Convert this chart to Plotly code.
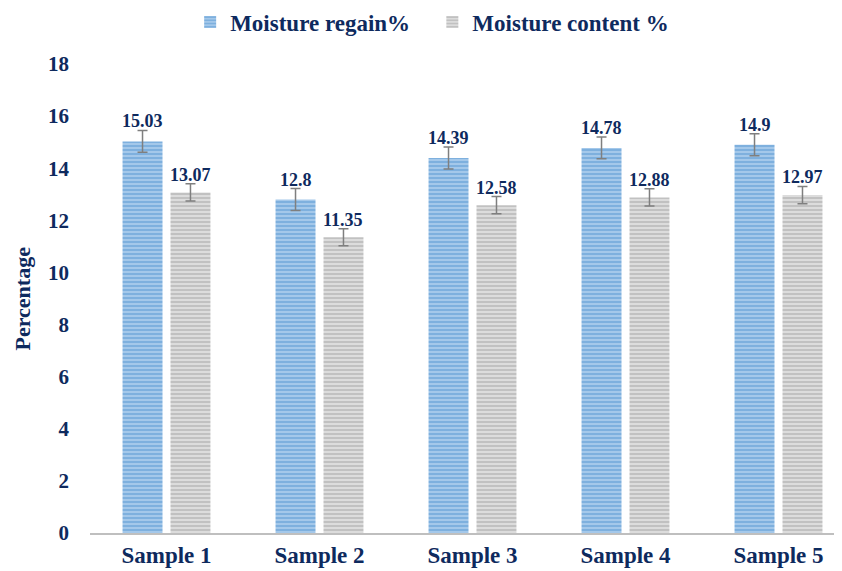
"""Moisture regain / content bar chart (Plotly)."""

import plotly.graph_objs as go

samples = ["Sample 1", "Sample 2", "Sample 3", "Sample 4", "Sample 5"]
regain = [15.03, 12.8, 14.39, 14.78, 14.9]
content = [13.07, 11.35, 12.58, 12.88, 12.97]
regain_err = [0.42, 0.42, 0.42, 0.42, 0.42]
content_err = [0.33, 0.33, 0.33, 0.33, 0.33]
y_ticks = [0, 2, 4, 6, 8, 10, 12, 14, 16, 18]

NAVY = "#0E2A5E"
FONT = "Liberation Serif"

# the page body has an 8px margin, so the figure is a bit smaller than the window
W, H = 834, 563
L_MARGIN, R_MARGIN = 82, 0
X_RANGE = [-0.5, 4.415]
BARGAP, GROUPGAP = 0.373, 0.167
cat_px = (W - L_MARGIN - R_MARGIN) / (X_RANGE[1] - X_RANGE[0])
slot_shift = cat_px * (1 - BARGAP) / 4

fig = go.Figure()
fig.add_trace(go.Bar(
    x=samples,
    y=regain,
    name="<b>Moisture regain%</b>\u00a0\u00a0\u00a0",
    marker=dict(
        color="#9DC3E6",
        line=dict(width=0),
        pattern=dict(shape="-", fgcolor="#4F93D2", bgcolor="#A4C8EA", size=4, solidity=0.45),
    ),
    error_y=dict(type="data", array=regain_err, color="#7F7F7F", thickness=1.5, width=5),
))
fig.add_trace(go.Bar(
    x=samples,
    y=content,
    name="<b>Moisture content %</b>",
    marker=dict(
        color="#D9D9D9",
        line=dict(width=0),
        pattern=dict(shape="-", fgcolor="#A0A0A0", bgcolor="#DCDCDC", size=4, solidity=0.45),
    ),
    error_y=dict(type="data", array=content_err, color="#7F7F7F", thickness=1.5, width=5),
))

# value labels above the error bars
for vals, errs, sign in [(regain, regain_err, -1), (content, content_err, 1)]:
    for s, v, e in zip(samples, vals, errs):
        fig.add_annotation(
            x=s, y=v + e,
            text=f"<b>{v:g}</b>",
            showarrow=False,
            xshift=sign * slot_shift,
            yanchor="bottom",
            yshift=-3,
            font=dict(family=FONT, size=18, color=NAVY),
        )

# y axis title, placed further left than plotly's own title would go
fig.add_annotation(
    xref="paper", yref="paper",
    x=0, y=0.5,
    xanchor="center", yanchor="middle",
    xshift=-68,
    text="<b>Percentage</b>",
    textangle=-90,
    showarrow=False,
    font=dict(family=FONT, size=22, color=NAVY),
)

fig.update_layout(
    width=W,
    height=H,
    barmode="group",
    bargap=BARGAP,
    bargroupgap=GROUPGAP,
    plot_bgcolor="white",
    paper_bgcolor="white",
    font=dict(family=FONT, color=NAVY, size=18),
    margin=dict(l=L_MARGIN, r=R_MARGIN, t=56, b=38, autoexpand=False),
    showlegend=True,
    legend=dict(
        orientation="h",
        x=0.455, xanchor="center",
        y=1.0896, yanchor="middle",
        font=dict(family=FONT, size=23, color=NAVY),
        itemwidth=30,
    ),
    xaxis=dict(
        range=X_RANGE,
        automargin=False,
        showline=True,
        linecolor="#BFBFBF",
        linewidth=2,
        ticks="",
        tickvals=samples,
        ticktext=[f"<b>{s}</b>" for s in samples],
        tickfont=dict(family=FONT, size=23, color=NAVY),
    ),
    yaxis=dict(
        range=[0, 18],
        automargin=False,
        tickvals=y_ticks,
        ticktext=[f"<b>{t}</b>" for t in y_ticks],
        showgrid=False,
        zeroline=False,
        showline=False,
        ticks="",
        ticklabelstandoff=20,
        tickfont=dict(family=FONT, size=21, color=NAVY),
    ),
)

fig.write_html("out.html")
